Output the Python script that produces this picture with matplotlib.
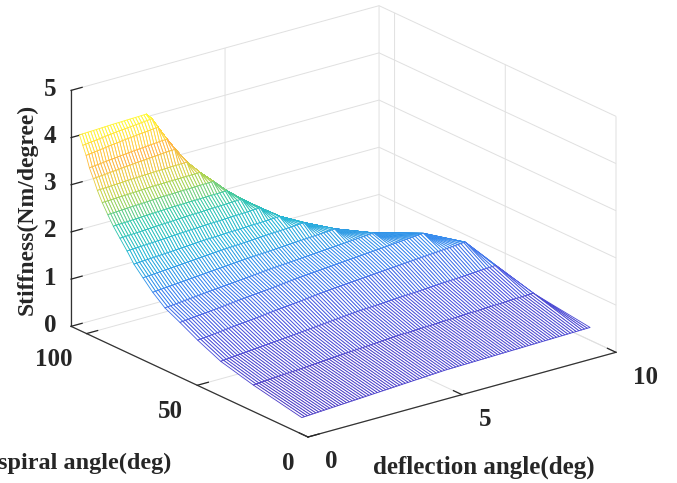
import numpy as np
import matplotlib
matplotlib.use('Agg')
import matplotlib.pyplot as plt
from matplotlib.colors import LinearSegmentedColormap, Normalize
from mpl_toolkits.mplot3d import proj3d

# one entry per sparse mesh row
spiral_angle = [2.8, 24.7, 39.4, 49.8, 57.8, 64.6, 70.1, 74.5, 78.6, 81.7,
                84.9, 87.9, 90.4, 92.9, 95.1, 96.9, 98.7, 100.2, 101.7, 103.2]
max_deflection = [9.36, 9.09, 8.93, 8.68, 7.90, 6.78, 5.92, 5.23, 4.74, 4.32,
                  3.95, 3.68, 3.42, 3.17, 2.90, 2.65, 2.51, 2.33, 2.24, 2.16]
stiffness_start = [0.35, 0.56, 0.74, 0.96, 1.16, 1.32, 1.53, 1.74, 1.94, 2.15,
                   2.35, 2.54, 2.73, 2.93, 3.14, 3.35, 3.54, 3.77, 3.95, 4.14]
stiffness_mid = [0.52, 0.76, 1.00, 1.26, 1.42, 1.53, 1.69, 1.87, 2.04, 2.23,
                 2.42, 2.60, 2.79, 2.98, 3.19, 3.43, 3.63, 3.87, 4.04, 4.17]
stiffness_end = [0.58, 0.875, 1.17, 1.48, 1.63, 1.69, 1.81, 1.97, 2.10, 2.29,
                 2.47, 2.63, 2.82, 3.00, 3.22, 3.50, 3.70, 3.95, 4.11, 4.19]

x_ticks = [0, 5, 10]
y_ticks = [0, 50, 100]
z_ticks = [0, 1, 2, 3, 4, 5]

# colours along stiffness, as seen on the mesh
color_stops = [(0.35, '#4a35c0'), (1.0, '#4a55e0'), (1.5, '#3585f0'), (2.0, '#22b4d8'),
               (2.5, '#2fc8a8'), (2.9, '#a5d350'), (3.2, '#e8d040'), (3.55, '#ffb040'),
               (3.8, '#ffd23c'), (4.2, '#ffff30')]

n_columns = 104  # spacing of the dense mesh lines

plt.rcParams['font.family'] = ['Liberation Serif', 'DejaVu Serif']
plt.rcParams['font.weight'] = 'bold'

fig = plt.figure(figsize=(6.77, 4.83), dpi=100)
ax = fig.add_axes([0, 0, 1, 1], projection='3d')
ax.set_proj_type('ortho')
ax.view_init(elev=21, azim=-127.5)
ax.set_xlim(0, 10)
ax.set_ylim(0, 107)
ax.set_zlim(0, 5)
aspect = (388, 389, 252.6)
ax.set_box_aspect(aspect, zoom=1.0)

# build the mesh: columns run at even deflection steps and pile up at each row's end
x_grid = np.linspace(0, max(max_deflection), n_columns)
X, Y, Z = [], [], []
for i in range(len(spiral_angle)):
    xm = max_deflection[i]
    row_x = np.minimum(x_grid, xm)
    row_z = np.interp(row_x, [0, xm / 2, xm], [stiffness_start[i], stiffness_mid[i], stiffness_end[i]])
    X.append(row_x)
    Y.append(np.full(n_columns, spiral_angle[i]))
    Z.append(row_z)
X, Y, Z = np.array(X), np.array(Y), np.array(Z)

vals, cols = zip(*color_stops)
lo, hi = vals[0], vals[-1]
cmap = LinearSegmentedColormap.from_list('mesh', [((v - lo) / (hi - lo), c) for v, c in color_stops])
norm = Normalize(lo, hi)

surf = ax.plot_surface(X, Y, Z, rstride=1, cstride=1, color='white', shade=False, linewidth=0.62)
face_z = (Z[:-1, :-1] + Z[1:, :-1] + Z[:-1, 1:] + Z[1:, 1:]).ravel() / 4
surf.set_edgecolor(cmap(norm(face_z)))
surf.set_facecolor('white')
surf.set_clip_on(False)

ax.set_xticks(x_ticks)
ax.set_yticks(y_ticks)
ax.set_zticks(z_ticks)

for axis in (ax.xaxis, ax.yaxis, ax.zaxis):
    axis.set_pane_color((1, 1, 1, 0))
    axis.pane.set_edgecolor((1, 1, 1, 0))
    axis.line.set_color('#333333')
    axis.line.set_linewidth(0.9)
    axis._axinfo['grid'].update(color='#e0e0e0', linewidth=0.7)
    axis._axinfo['tick'].update(inward_factor=0.0, outward_factor=0.45, linewidth={True: 0.9, False: 0.9})
    axis.set_tick_params(labelsize=18, colors='#262626')
ax.xaxis.set_tick_params(pad=5)
ax.yaxis.set_tick_params(pad=0.2)
ax.zaxis.set_tick_params(pad=-1)
for lab in ax.get_xticklabels():
    lab.set_verticalalignment('center')
    lab.set_horizontalalignment('left')
for lab in ax.get_yticklabels():
    lab.set_verticalalignment('top')
    lab.set_horizontalalignment('right')
for lab in ax.get_zticklabels():
    lab.set_verticalalignment('center')
    lab.set_horizontalalignment('center')


def screen(x, y, z):
    px, py, _ = proj3d.proj_transform(x, y, z, ax.get_proj())
    return ax.transData.transform((px, py))


# fit the box to the reference: x axis 308 px wide, origin at (308, 437) from the top
fig.canvas.draw()
zoom = 308 / (screen(10, 0, 0)[0] - screen(0, 0, 0)[0])
ax.set_box_aspect(aspect, zoom=zoom)
fig.canvas.draw()
o = screen(0, 0, 0)
ax.set_position([(308 - o[0]) / 677, ((483 - 437) - o[1]) / 483, 1, 1])

fig.text(484 / 677, 1 - 467 / 483, 'deflection angle(deg)', ha='center', va='center', fontsize=18, color='#262626')
fig.text(84.5 / 677, 1 - 463 / 483, 'spiral angle(deg)', ha='center', va='center', fontsize=17.5, color='#262626')
fig.text(27 / 677, 1 - 209 / 483, 'Stiffness(Nm/degree)', rotation=90, ha='center', va='center', fontsize=17, color='#262626')

fig.savefig('out.png', dpi=100)
